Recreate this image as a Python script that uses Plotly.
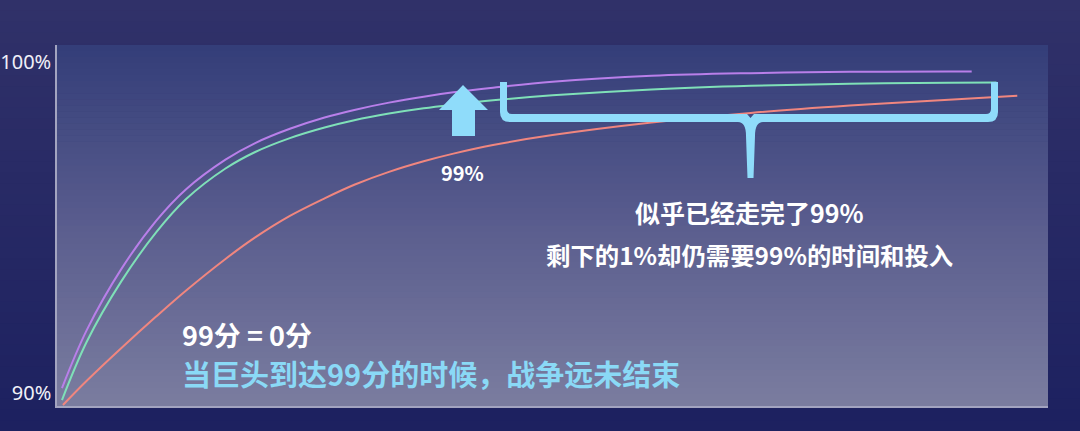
import plotly.graph_objects as go

# ---------------- data ----------------
x_purple = [0.5, 3.0, 6.5, 10.0, 13.0, 17.0, 20.0, 23.5, 27.0, 30.0, 33.5, 37.0, 40.0, 44.0, 50.0, 60.0, 70.0, 80.0, 90.0, 92.3]
y_purple = [90.15, 91.90, 93.75, 95.20, 96.15, 97.05, 97.55, 97.98, 98.32, 98.55, 98.77, 98.95, 99.08, 99.22, 99.40, 99.58, 99.66, 99.70, 99.71, 99.71]

x_green = [0.5, 3.0, 6.5, 10.0, 13.0, 17.0, 20.0, 23.5, 27.0, 30.0, 33.5, 37.0, 40.0, 44.0, 50.0, 60.0, 70.0, 80.0, 90.0, 94.8]
y_green = [89.79, 91.55, 93.38, 94.85, 95.85, 96.78, 97.28, 97.70, 98.02, 98.24, 98.44, 98.60, 98.71, 98.84, 98.99, 99.17, 99.28, 99.34, 99.37, 99.38]

x_red = [0.6, 3.0, 6.5, 10.0, 13.0, 17.0, 20.0, 23.5, 27.0, 30.0, 33.5, 37.0, 40.0, 44.0, 50.0, 60.0, 70.0, 80.0, 90.0, 96.9]
y_red = [89.64, 90.37, 91.36, 92.31, 93.09, 94.05, 94.70, 95.35, 95.88, 96.29, 96.68, 97.00, 97.23, 97.49, 97.79, 98.17, 98.46, 98.68, 98.86, 98.98]

y_tick_vals = [90, 100]
y_tick_text = ["90%", "100%"]

title_line1 = "99分 = 0分"
title_line2 = "当巨头到达99分的时候，战争远未结束"
note_line1 = "似乎已经走完了99%"
note_line2 = "剩下的1%却仍需要99%的时间和投入"
arrow_label = "99%"

# ---------------- layout geometry ----------------
W, H = 1080, 431
L, R, T, B = 57, 32, 45, 25
PW, PH = W - L - R, H - T - B


def px(X):
    return (X - L) / PW


def py(Y):
    return (H - B - Y) / PH


def hexmix(c1, c2, t):
    a = [int(c1[i:i + 2], 16) for i in (1, 3, 5)]
    b = [int(c2[i:i + 2], 16) for i in (1, 3, 5)]
    return "#" + "".join("%02x" % round(a[k] + (b[k] - a[k]) * t) for k in range(3))


shapes = []
# outer background gradient
N = 40
for i in range(N):
    y0 = i * H / N
    y1 = (i + 1) * H / N + 0.6
    col = hexmix("#303169", "#1d2160", i / (N - 1))
    shapes.append(dict(type="rect", xref="paper", yref="paper",
                       x0=px(0), x1=px(W), y0=py(y1), y1=py(y0),
                       fillcolor=col, line=dict(width=0), layer="below"))
# plot area gradient
M = 60
for i in range(M):
    y0 = T + i * PH / M
    y1 = T + (i + 1) * PH / M + 0.6
    t = i / (M - 1)
    if t < 0.5:
        col = hexmix("#343e79", "#5a5d8e", t / 0.5)
    else:
        col = hexmix("#5a5d8e", "#7a7c9f", (t - 0.5) / 0.5)
    shapes.append(dict(type="rect", xref="paper", yref="paper",
                       x0=0, x1=1, y0=max(0, py(y1)), y1=min(1, py(y0)),
                       fillcolor=col, line=dict(width=0), layer="below"))


def P(X, Y):
    return "%.5f,%.5f" % (px(X), py(Y))


cyan = "#8fdcfa"

# arrow
arrow_path = ("M " + P(463, 85) + " L " + P(488, 110) + " L " + P(475, 110) +
              " L " + P(475, 136) + " L " + P(452, 136) + " L " + P(452, 110) +
              " L " + P(439, 110) + " Z")
shapes.append(dict(type="path", xref="paper", yref="paper", path=arrow_path,
                   fillcolor=cyan, line=dict(width=0), layer="above"))

# bracket
br = ("M " + P(500, 82) + " L " + P(500, 112) + " Q " + P(500, 122) + " " + P(510, 122) +
      " L " + P(738, 122) + " Q " + P(746, 122) + " " + P(746, 136) +
      " L " + P(747.5, 178) + " L " + P(753.5, 178) + " L " + P(755, 136) +
      " Q " + P(755, 122) + " " + P(763, 122) +
      " L " + P(988, 122) + " Q " + P(998, 122) + " " + P(998, 112) +
      " L " + P(998, 82) + " L " + P(991, 82) + " L " + P(991, 109) +
      " Q " + P(991, 114) + " " + P(986, 114) +
      " L " + P(754, 114) + " L " + P(750.5, 118) + " L " + P(747, 114) +
      " L " + P(512, 114) + " Q " + P(507, 114) + " " + P(507, 109) +
      " L " + P(507, 82) + " Z")
shapes.append(dict(type="path", xref="paper", yref="paper", path=br,
                   fillcolor=cyan, line=dict(width=0), layer="above"))

fig = go.Figure()
for xs, ys, col in [(x_red, y_red, "#f0867f"), (x_green, y_green, "#7fe0b8"), (x_purple, y_purple, "#b97fea")]:
    fig.add_trace(go.Scatter(x=xs, y=ys, mode="lines", line=dict(color=col, width=2, shape="spline", smoothing=1.0),
                             hoverinfo="skip", showlegend=False))

cjk = "Noto Sans CJK SC"
annotations = [
    dict(xref="paper", yref="paper", x=px(180), y=py(334), xanchor="left", yanchor="middle",
         text="<b>" + title_line1 + "</b>", showarrow=False, font=dict(family=cjk, size=27, color="#ffffff")),
    dict(xref="paper", yref="paper", x=px(180), y=py(373), xanchor="left", yanchor="middle",
         text="<b>" + title_line2 + "</b>", showarrow=False, font=dict(family=cjk, size=29, color="#8ad9f6")),
    dict(xref="paper", yref="paper", x=px(749), y=py(212), xanchor="center", yanchor="middle",
         text="<b>" + note_line1 + "</b>", showarrow=False, font=dict(family=cjk, size=25, color="#ffffff")),
    dict(xref="paper", yref="paper", x=px(749), y=py(254), xanchor="center", yanchor="middle",
         text="<b>" + note_line2 + "</b>", showarrow=False, font=dict(family=cjk, size=24.4, color="#ffffff")),
    dict(xref="paper", yref="paper", x=px(462), y=py(172), xanchor="center", yanchor="middle",
         text="<b>" + arrow_label + "</b>", showarrow=False, font=dict(family=cjk, size=20, color="#ffffff")),
]

fig.update_layout(
    width=W, height=H,
    margin=dict(l=L, r=R, t=T, b=B, pad=0, autoexpand=False),
    paper_bgcolor="#262866",
    plot_bgcolor="rgba(0,0,0,0)",
    shapes=shapes,
    annotations=annotations,
    showlegend=False,
    xaxis=dict(range=[0, 100], showgrid=False, zeroline=False, showticklabels=False, ticks="",
               showline=True, linecolor="#a3a4c0", linewidth=1.5, fixedrange=True, automargin=False),
    yaxis=dict(range=[89.61, 100.51], showgrid=False, zeroline=False, tickvals=y_tick_vals, ticktext=y_tick_text,
               ticks="", showline=True, linecolor="#a3a4c0", linewidth=1.5, ticklabelstandoff=0, automargin=False,
               tickfont=dict(family="Noto Sans", size=20, color="#f0f0f8"), fixedrange=True),
)

fig.write_html("out.html", include_plotlyjs=True, config={"displayModeBar": False},
               post_script="document.body.style.margin='0';document.body.style.background='#1d2160';")
